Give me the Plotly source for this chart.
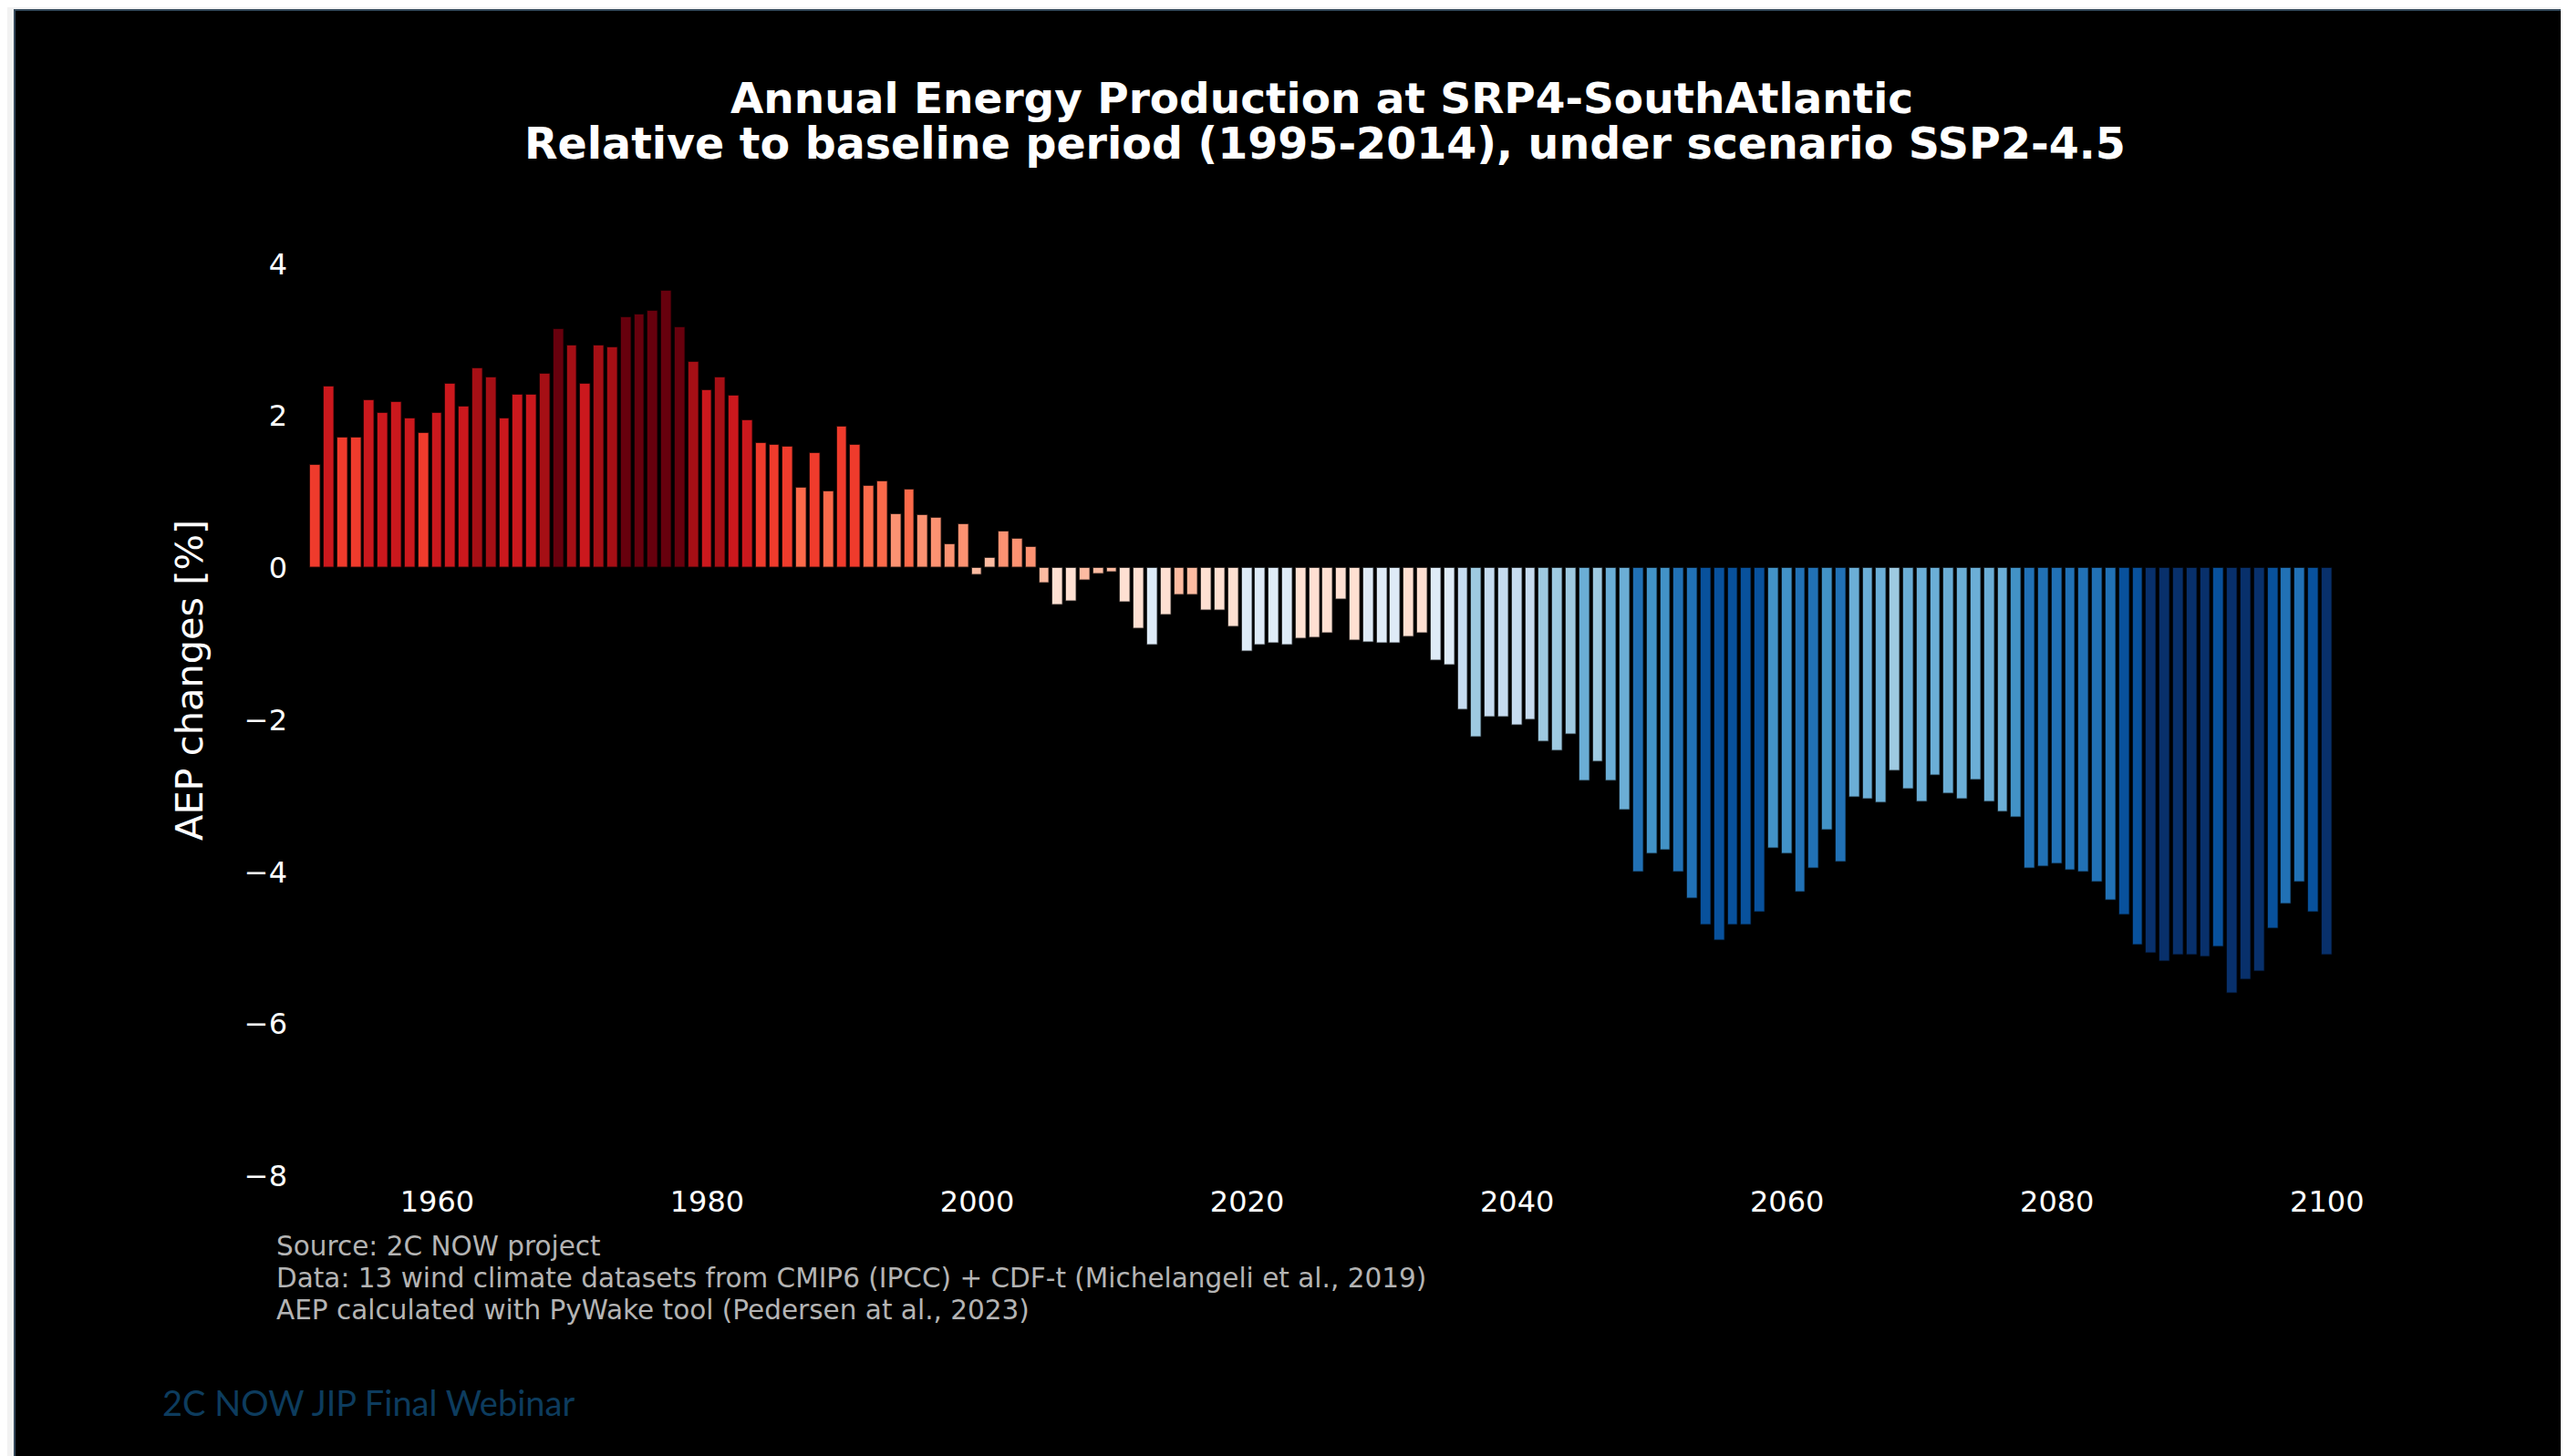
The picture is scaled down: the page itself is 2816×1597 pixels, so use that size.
import plotly.graph_objects as go

# ---------------- data ----------------
years = list(range(1951, 2101))
aep_change = [
    1.36, 2.39, 1.72, 1.72, 2.20, 2.04, 2.18, 1.96, 1.78, 2.04,   # 1951-1960
    2.42, 2.12, 2.63, 2.50, 1.96, 2.28, 2.28, 2.55, 3.14, 2.93,   # 1961-1970
    2.42, 2.93, 2.90, 3.30, 3.33, 3.38, 3.64, 3.17, 2.71, 2.34,   # 1971-1980
    2.50, 2.26, 1.94, 1.64, 1.62, 1.59, 1.06, 1.51, 1.01, 1.86,   # 1981-1990
    1.62, 1.08, 1.14, 0.71, 1.03, 0.69, 0.66, 0.31, 0.58, -0.10,  # 1991-2000
    0.13, 0.48, 0.38, 0.28, -0.20, -0.49, -0.44, -0.17, -0.09, -0.06,  # 2001-2010
    -0.46, -0.81, -1.02, -0.62, -0.36, -0.36, -0.57, -0.57, -0.78, -1.10,  # 2011-2020
    -1.02, -1.00, -1.02, -0.94, -0.92, -0.86, -0.42, -0.96, -0.99, -1.00,  # 2021-2030
    -1.00, -0.91, -0.86, -1.23, -1.28, -1.87, -2.23, -1.97, -1.97, -2.08,  # 2031-2040
    -2.00, -2.29, -2.41, -2.20, -2.81, -2.55, -2.81, -3.19, -4.01, -3.77,  # 2041-2050
    -3.72, -4.01, -4.36, -4.70, -4.91, -4.70, -4.70, -4.54, -3.69, -3.77,  # 2051-2060
    -4.27, -3.96, -3.45, -3.87, -3.02, -3.05, -3.10, -2.68, -2.92, -3.08,  # 2061-2070
    -2.73, -2.97, -3.05, -2.79, -3.08, -3.21, -3.29, -3.96, -3.93, -3.90,  # 2071-2080
    -3.98, -4.01, -4.14, -4.38, -4.57, -4.97, -5.07, -5.18, -5.10, -5.10,  # 2081-2090
    -5.12, -4.99, -5.60, -5.42, -5.31, -4.75, -4.43, -4.14, -4.54, -5.10,  # 2091-2100
]
stripe_colors = ['#08306b', '#08519c', '#2171b5', '#4292c6', '#6baed6', '#9ecae1',
                 '#c6dbef', '#deebf7', '#fee0d2', '#fcbba1', '#fc9272', '#fb6a4a',
                 '#ef3b2c', '#cb181d', '#a50f15', '#67000d']
x_ticks = [1960, 1980, 2000, 2020, 2040, 2060, 2080, 2100]
y_ticks = [-8, -6, -4, -2, 0, 2, 4]

title_line1 = "Annual Energy Production at SRP4-SouthAtlantic"
title_line2 = "Relative to baseline period (1995-2014), under scenario SSP2-4.5"
y_title = "AEP changes [%]"
notes = ["Source: 2C NOW project",
         "Data: 13 wind climate datasets from CMIP6 (IPCC) + CDF-t (Michelangeli et al., 2019)",
         "AEP calculated with PyWake tool (Pedersen at al., 2023)"]
footer = "2C NOW JIP Final Webinar"

# ---------------- layout geometry ----------------
# the page adds an 8px body margin, so the figure is 8px smaller and shifted
OFF = 8
W, H = 2816 - OFF, 1597 - OFF
ML, MR, MT, MB = 324 - OFF, 242, 206 - OFF, 307
PW, PH = W - ML - MR, H - MT - MB


def px(xpix):
    """screen-pixel x (reference coords) -> paper coordinate"""
    return (xpix - OFF - ML) / PW


def py(ypix):
    """screen-pixel y (reference coords) -> paper coordinate"""
    return (H - MB - (ypix - OFF)) / PH


# stepped colorscale (16 discrete bins over min..max)
n = len(stripe_colors)
colorscale = []
for i, c in enumerate(stripe_colors):
    colorscale.append([i / n, c])
    colorscale.append([(i + 1) / n, c])

fig = go.Figure()
fig.add_trace(go.Bar(
    x=years, y=aep_change, width=0.8,
    marker=dict(color=aep_change, colorscale=colorscale,
                cmin=min(aep_change), cmax=max(aep_change),
                line=dict(color="rgba(0,0,0,0.7)", width=1.5)),
    showlegend=False,
))

FONT = "DejaVu Sans"
annotations = [
    dict(text="<b>%s</b>" % title_line1, x=px(1449), y=py(107), xref="paper", yref="paper",
         xanchor="center", yanchor="middle", showarrow=False,
         font=dict(family=FONT, size=47, color="white")),
    dict(text="<b>%s</b>" % title_line2, x=px(1453), y=py(157), xref="paper", yref="paper",
         xanchor="center", yanchor="middle", showarrow=False,
         font=dict(family=FONT, size=47.5, color="white")),
    dict(text=y_title, x=px(207), y=py(746), xref="paper", yref="paper",
         xanchor="center", yanchor="middle", showarrow=False, textangle=-90,
         font=dict(family=FONT, size=41.5, color="white")),
    dict(text=footer, x=px(176), y=py(1538), xref="paper", yref="paper",
         xanchor="left", yanchor="middle", showarrow=False,
         font=dict(family="Lato", size=38, color="#0d3c5e")),
]
for i, t in enumerate(notes):
    annotations.append(dict(text=t, x=px(301), y=py(1367 + 35 * i), xref="paper", yref="paper",
                            xanchor="left", yanchor="middle", showarrow=False,
                            font=dict(family=FONT, size=29.5, color="#b4b4b4")))

shapes = [
    dict(type="rect", xref="paper", yref="paper", x0=px(0), x1=px(2816), y0=py(OFF), y1=py(10),
         fillcolor="#f2f2f2", line=dict(width=0), layer="above"),
    dict(type="rect", xref="paper", yref="paper", x0=px(OFF), x1=px(15), y0=py(OFF), y1=py(1597),
         fillcolor="#f2f2f2", line=dict(width=0), layer="above"),
    dict(type="line", xref="paper", yref="paper", x0=px(15), x1=px(2816), y0=py(11), y1=py(11),
         line=dict(color="#34495a", width=2), layer="above"),
    dict(type="line", xref="paper", yref="paper", x0=px(16), x1=px(16), y0=py(11), y1=py(1597),
         line=dict(color="#34495a", width=2), layer="above"),
]

fig.update_layout(
    width=W, height=H,
    margin=dict(l=ML, r=MR, t=MT, b=MB, pad=0),
    paper_bgcolor="black", plot_bgcolor="black",
    annotations=annotations, shapes=shapes,
    bargap=0,
    xaxis=dict(range=[1949.5, 2101.5], tickvals=x_ticks, ticktext=[str(v) for v in x_ticks],
               showgrid=False, zeroline=False, showline=False, ticks="",
               tickfont=dict(family=FONT, size=32, color="white"), ticklabelstandoff=6),
    yaxis=dict(range=[-8, 5], tickvals=y_ticks,
               ticktext=[("\u2212%d" % -v) if v < 0 else str(v) for v in y_ticks],
               showgrid=False, zeroline=False, showline=False, ticks="",
               tickfont=dict(family=FONT, size=32, color="white"), ticklabelstandoff=8),
)

fig.write_html("out.html")
